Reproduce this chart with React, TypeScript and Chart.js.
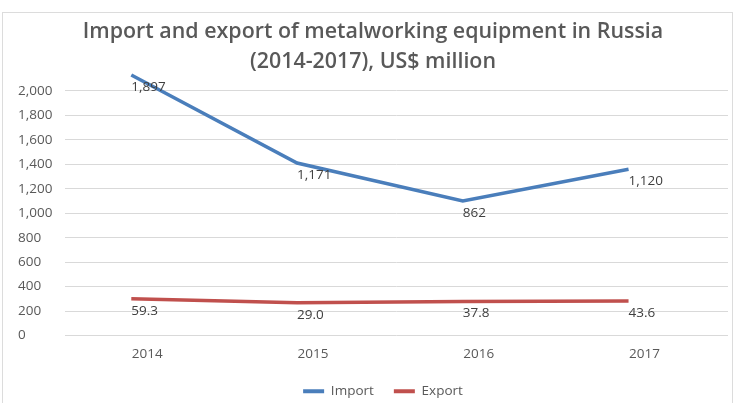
import React, { useEffect, useRef } from "react";
import { Chart, registerables } from "chart.js";

Chart.register(...registerables);

const categories = ["2014", "2015", "2016", "2017"];
const importValues = [2130, 1410, 1100, 1360];
const exportValues = [300, 268, 278, 282];
const importLabels = ["1,897", "1,171", "862", "1,120"];
const exportLabels = ["59.3", "29.0", "37.8", "43.6"];
const yTicks = [0, 200, 400, 600, 800, 1000, 1200, 1400, 1600, 1800, 2000];

const FONT = "'Open Sans', 'DejaVu Sans', sans-serif";
const GRAY = "#595959";

const frame = {
  id: "frame",
  afterLayout(chart: any) {
    if (chart.legend) chart.legend.left += 20;
  },
  beforeDraw(chart: any) {
    const { ctx, width, height } = chart;
    ctx.save();
    ctx.fillStyle = "#ffffff";
    ctx.fillRect(0, 0, width, height);
    ctx.strokeStyle = "#dcdcdc";
    ctx.lineWidth = 1;
    ctx.strokeRect(2.5, 12.5, width - 3, height - 12);
    ctx.restore();
  },
};

const valueLabels = {
  id: "valueLabels",
  afterDatasetsDraw(chart: any) {
    const { ctx } = chart;
    const sets = [importLabels, exportLabels];
    ctx.save();
    ctx.font = `13.5px ${FONT}`;
    ctx.fillStyle = "#404040";
    ctx.textAlign = "left";
    ctx.textBaseline = "middle";
    chart.data.datasets.forEach((_: any, di: number) => {
      const meta = chart.getDatasetMeta(di);
      meta.data.forEach((pt: any, i: number) => {
        ctx.fillText(sets[di][i], pt.x, pt.y + 12);
      });
    });
    ctx.restore();
  },
};

export default function App() {
  const ref = useRef<HTMLCanvasElement | null>(null);
  useEffect(() => {
    if (!ref.current) return;
    const chart = new Chart(ref.current, {
      type: "line",
      data: {
        datasets: [
          {
            label: "Import",
            data: importValues.map((y, i) => ({ x: i, y })),
            borderColor: "#4a7ebb",
            backgroundColor: "#4a7ebb",
            borderWidth: 3.5,
            pointRadius: 0,
            tension: 0,
            clip: false as any,
          },
          {
            label: "Export",
            data: exportValues.map((y, i) => ({ x: i, y })),
            borderColor: "#c0504d",
            backgroundColor: "#c0504d",
            borderWidth: 3.5,
            pointRadius: 0,
            tension: 0,
            clip: false as any,
          },
        ],
      },
      options: {
        animation: false,
        responsive: true,
        maintainAspectRatio: false,
        layout: { padding: { left: 18, right: 5, top: 0, bottom: -5 } },
        plugins: {
          title: {
            display: true,
            text: [
              "Import and export of metalworking equipment in Russia",
              "(2014-2017), US$ million",
            ],
            color: GRAY,
            font: { family: FONT, size: 21.4, weight: 600 as any, lineHeight: 1.4 },
            padding: { top: 17, bottom: 14 },
          },
          legend: {
            position: "bottom",
            labels: {
              color: GRAY,
              font: { family: FONT, size: 13.5 },
              boxWidth: 21,
              boxHeight: 4,
              padding: 20,
              generateLabels: (c: any) =>
                Chart.defaults.plugins.legend.labels
                  .generateLabels(c)
                  .map((l: any) => ({ ...l, lineWidth: 0 })),
            },
          },
          tooltip: { enabled: false },
        },
        scales: {
          x: {
            type: "linear",
            min: -0.4,
            max: 3.6,
            afterBuildTicks: (s: any) => {
              s.ticks = categories.map((_, i) => ({ value: i }));
            },
            afterFit: (s: any) => {
              s.height = 29;
            },
            ticks: {
              callback: (v: any) => categories[v] ?? "",
              color: GRAY,
              font: { family: FONT, size: 13.5 },
              labelOffset: 16,
              padding: 3,
              maxRotation: 0,
            },
            grid: { display: false },
            border: { display: false },
          },
          y: {
            min: 0,
            max: 2000,
            afterBuildTicks: (s: any) => {
              s.ticks = yTicks.map((v) => ({ value: v }));
            },
            afterFit: (s: any) => {
              s.width = 47;
            },
            ticks: {
              color: GRAY,
              font: { family: FONT, size: 13.5 },
              crossAlign: "far",
              callback: (v: any) => Number(v).toLocaleString("en-US"),
            },
            grid: { color: "#d9d9d9", drawTicks: false },
            border: { display: false },
          },
        },
      },
      plugins: [frame, valueLabels],
    });
    return () => chart.destroy();
  }, []);
  return (
    <div style={{ position: "fixed", left: 0, top: 0, width: 733, height: 403 }}>
      <canvas ref={ref} />
    </div>
  );
}
